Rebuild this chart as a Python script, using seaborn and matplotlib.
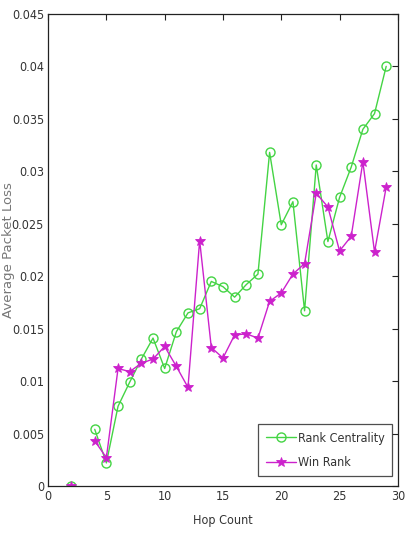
import numpy as np
import pandas as pd
import matplotlib
matplotlib.use("Agg")
import matplotlib.pyplot as plt
from matplotlib.lines import Line2D
import seaborn as sns

hop = [2, 3, 4, 5, 6, 7, 8, 9, 10, 11, 12, 13, 14, 15, 16, 17, 18, 19, 20, 21, 22, 23, 24, 25, 26, 27, 28, 29]
rank_centrality = [0.0, np.nan, 0.0054, 0.0022, 0.0076, 0.0099, 0.0121, 0.0141, 0.0112, 0.0147, 0.0165, 0.0169,
                   0.0195, 0.0190, 0.0180, 0.0192, 0.0202, 0.0318, 0.0249, 0.0271, 0.0167, 0.0306, 0.0233,
                   0.0275, 0.0304, 0.0340, 0.0355, 0.0400]
win_rank = [0.0, np.nan, 0.0043, 0.0027, 0.0112, 0.0109, 0.0117, 0.0121, 0.0133, 0.0114, 0.0094, 0.0234,
            0.0132, 0.0122, 0.0144, 0.0145, 0.0141, 0.0176, 0.0184, 0.0202, 0.0212, 0.0279, 0.0266,
            0.0224, 0.0238, 0.0309, 0.0223, 0.0285]
series_names = ["Rank Centrality", "Win Rank"]
x_ticks = [0, 5, 10, 15, 20, 25, 30]
y_ticks = [0, 0.005, 0.01, 0.015, 0.02, 0.025, 0.03, 0.035, 0.04, 0.045]
y_tick_labels = ["0", "0.005", "0.01", "0.015", "0.02", "0.025", "0.03", "0.035", "0.04", "0.045"]


def to_frame(values):
    df = pd.DataFrame({"hop": hop, "value": values})
    # gaps (missing values) split the line into separate segments
    df["segment"] = df["value"].isna().cumsum()
    return df.dropna()


sns.set_style("white")
plt.rcParams['font.family'] = ['DejaVu Sans']
plt.rcParams['font.stretch'] = 'condensed'

fig = plt.figure(figsize=(4.11, 5.35), dpi=100)
ax = fig.add_axes([0.117, 0.0916, 0.851, 0.8824])

green = "#44d444"
magenta = "#cc22cc"

sns.lineplot(data=to_frame(rank_centrality), x="hop", y="value", units="segment", ax=ax, color=green,
             lw=1.0, marker="o", markersize=6.5, markerfacecolor="none", markeredgecolor=green,
             markeredgewidth=1.0, estimator=None, sort=False)
sns.lineplot(data=to_frame(win_rank), x="hop", y="value", units="segment", ax=ax, color=magenta,
             lw=1.0, marker="*", markersize=7.5, markerfacecolor=magenta, markeredgecolor=magenta,
             markeredgewidth=0.6, estimator=None, sort=False)

ax.set_xlim(0, 30)
ax.set_ylim(0, 0.045)
ax.set_xticks(x_ticks)
ax.set_xticklabels([str(t) for t in x_ticks], fontsize=9)
ax.set_yticks(y_ticks)
ax.set_yticklabels(y_tick_labels, fontsize=9)
ax.tick_params(direction="in", length=4, width=0.8, top=True, right=True, colors="#222222",
               labelcolor="#333333", pad=3)
for s in ax.spines.values():
    s.set_visible(True)
    s.set_color("#222222")
    s.set_linewidth(0.9)

ax.set_xlabel("Hop Count", fontsize=9, color="#333333", labelpad=8)
ax.set_ylabel("Average Packet Loss", fontsize=9.5, color="#777777", fontstretch="normal")
ax.yaxis.set_label_coords(-0.095, 0.5)

handles = [Line2D([], [], color=green, lw=1.0, marker="o", markersize=6.5, markerfacecolor="none",
                  markeredgecolor=green),
           Line2D([], [], color=magenta, lw=1.0, marker="*", markersize=7.5, markerfacecolor=magenta,
                  markeredgecolor=magenta, markeredgewidth=0.6)]
leg = ax.legend(handles, series_names, loc="lower right", bbox_to_anchor=(0.99, 0.015), fontsize=9,
                frameon=True, fancybox=False, edgecolor="#222222", borderpad=0.6, handlelength=2.4,
                handletextpad=0.15, labelspacing=0.9, borderaxespad=0.2)
leg.get_frame().set_linewidth(0.9)
for t in leg.get_texts():
    t.set_color("#333333")

fig.savefig("out.png", dpi=100)
